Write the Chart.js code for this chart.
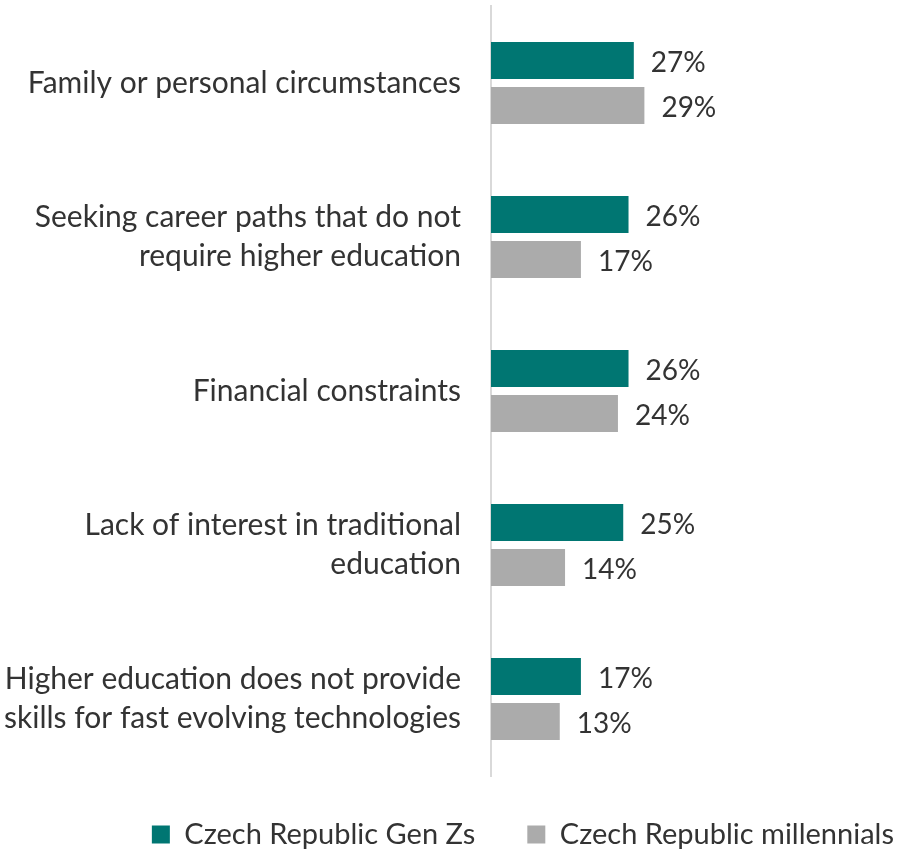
<!DOCTYPE html>
<html>
<head>
<meta charset="utf-8">
<script src="https://cdn.jsdelivr.net/npm/chart.js@4"></script>
<style>
  body { margin: 0; background: #fff; }
  #wrap { width: 900px; height: 850px; }
</style>
</head>
<body>
<div id="wrap"><canvas id="reasonsChart" width="900" height="850"></canvas></div>
<script>
const categories = [
    'Family or personal circumstances',
    ['Seeking career paths that do not', 'require higher education'],
    'Financial constraints',
    ['Lack of interest in traditional', 'education'],
    ['Higher education does not provide', 'skills for fast evolving technologies']
];
const genZs = [27, 26, 26, 25, 17];
const millennials = [29, 17, 24, 14, 13];
const seriesNames = ['Czech Republic Gen Zs', 'Czech Republic millennials'];

const FONT = 'Lato, "Open Sans", sans-serif';
const TEXT = '#333333';
const LEGEND_GAP = 52;

// draws the "27%" labels right of each bar
const barValueLabels = {
    id: 'barValueLabels',
    afterDatasetsDraw(chart) {
        const ctx = chart.ctx;
        ctx.save();
        ctx.font = '28px ' + FONT;
        ctx.fillStyle = TEXT;
        ctx.textAlign = 'left';
        ctx.textBaseline = 'middle';
        chart.data.datasets.forEach((ds, i) => {
            chart.getDatasetMeta(i).data.forEach((bar, j) => {
                ctx.fillText(ds.data[j] + '%', bar.x + 17, bar.y + 2);
            });
        });
        ctx.restore();
    }
};

// push the legend flush to the right edge (chart.js leaves one padding gap there)
const legendNudge = {
    id: 'legendNudge',
    afterLayout(chart) {
        const lg = chart.legend;
        if (!lg) return;
        lg.left += LEGEND_GAP + 1;
        lg.right += LEGEND_GAP + 1;
        lg.top -= 8;
        lg.bottom -= 8;
    }
};

new Chart(document.getElementById('reasonsChart').getContext('2d'), {
    type: 'bar',
    data: {
        labels: categories,
        datasets: [
            { label: seriesNames[0], data: genZs, backgroundColor: '#007672', categoryPercentage: 0.584, barPercentage: 0.82 },
            { label: seriesNames[1], data: millennials, backgroundColor: '#ababab', categoryPercentage: 0.584, barPercentage: 0.82 }
        ]
    },
    options: {
        indexAxis: 'y',
        responsive: false,
        animation: false,
        layout: { padding: { top: 6, right: 7, left: 0, bottom: -17 } },
        scales: {
            x: { display: false, min: 0, max: 76 },
            y: {
                afterFit(scale) {
                    scale.width = 491;
                    scale.paddingTop = 0;
                    scale.paddingBottom = 0;
                },
                grid: { display: false, drawTicks: false },
                border: { display: true, color: '#d9d9d9', width: 2 },
                ticks: { color: TEXT, padding: 30, font: { family: FONT, size: 30, lineHeight: 1.3 } }
            }
        },
        plugins: {
            legend: {
                position: 'bottom',
                align: 'end',
                labels: { color: TEXT, boxWidth: 18, boxHeight: 18, padding: LEGEND_GAP, font: { family: FONT, size: 29 } }
            },
            tooltip: { enabled: false }
        }
    },
    plugins: [barValueLabels, legendNudge]
});
</script>
</body>
</html>
